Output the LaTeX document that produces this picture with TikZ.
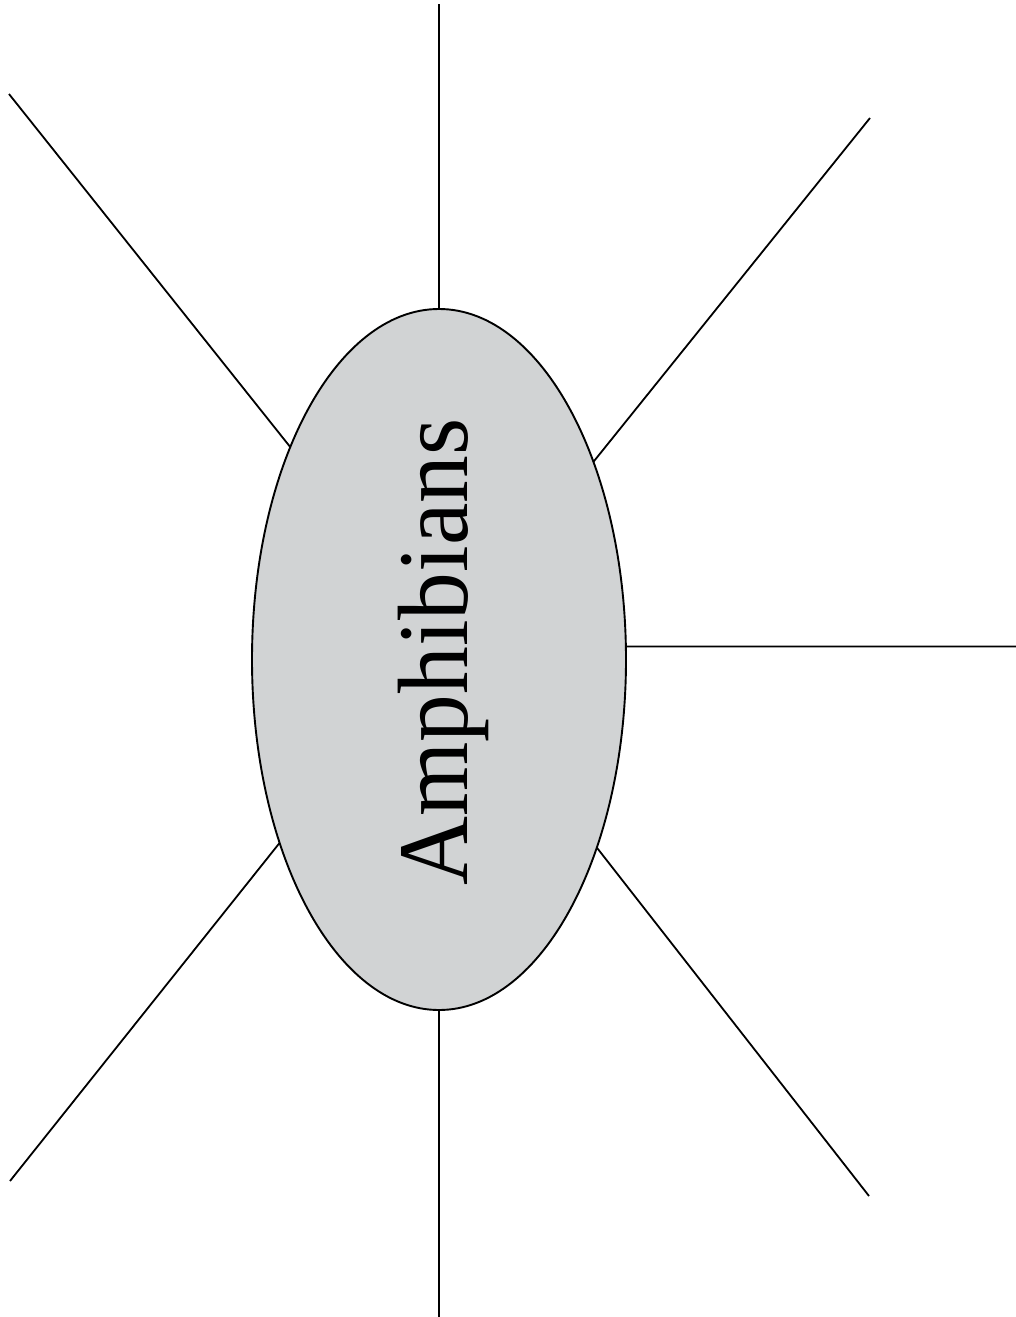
\documentclass[tikz,border=0pt]{standalone}
\usepackage{fontspec}
\setmainfont{Liberation Serif}
\usetikzlibrary{shapes.geometric}
\definecolor{ovalgrey}{RGB}{209,211,212}
\tikzset{
  spoke/.style={draw=black, line width=1.8pt},
  oval/.style={ellipse, draw=black, line width=1.9pt, fill=ovalgrey,
    minimum width=374pt, minimum height=701pt, inner sep=0pt, outer sep=0pt}
}
\begin{document}
\begin{tikzpicture}[x=1pt,y=-1pt]
\useasboundingbox (0,0) rectangle (1016,1317);
\node[oval] (amph) at (439,659.5) {};
\node[rotate=90, inner sep=0pt] (lbl) at (443,652)
  {\fontsize{100}{106}\selectfont\scalebox{0.955}[1]{Amphibians}};
\coordinate (top) at (439,4);
\coordinate (bot) at (439,1317);
\coordinate (rgt) at (1016,646.5);
\coordinate (ul) at (9,94);
\coordinate (ur) at (870,118);
\coordinate (ll) at (10,1181);
\coordinate (lr) at (869,1196);
\draw[spoke] (top) -- (amph.90);
\draw[spoke] (bot) -- (amph.270);
\draw[spoke] (rgt) -- (amph.4);
\draw[spoke] (ul) -- (amph.125.7);
\draw[spoke] (ur) -- (amph.52);
\draw[spoke] (ll) -- (amph.229.5);
\draw[spoke] (lr) -- (amph.310.8);
\end{tikzpicture}
\end{document}
